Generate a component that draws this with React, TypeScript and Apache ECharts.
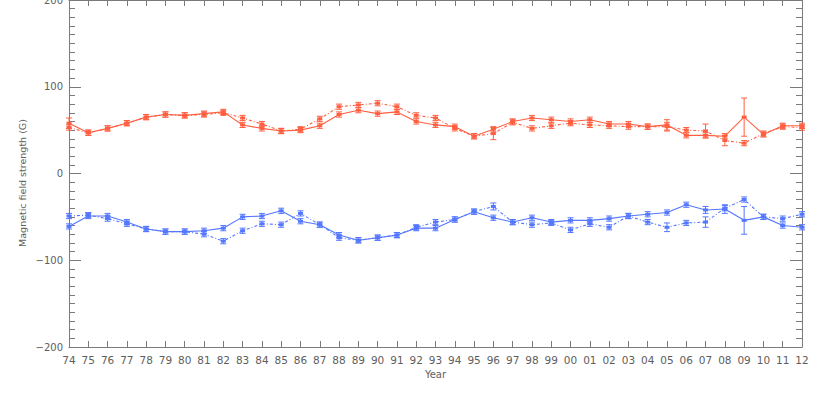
import React, { useEffect, useRef } from "react";
import * as echarts from "echarts";

const years = [
  1974, 1975, 1976, 1977, 1978, 1979, 1980, 1981, 1982, 1983, 1984, 1985, 1986,
  1987, 1988, 1989, 1990, 1991, 1992, 1993, 1994, 1995, 1996, 1997, 1998, 1999,
  2000, 2001, 2002, 2003, 2004, 2005, 2006, 2007, 2008, 2009, 2010, 2011, 2012,
];

// Positive polarity (red): solid and dotted
const redSolid = [
  58, 47, 52, 58, 65, 68, 67, 69, 71, 56, 52, 49, 50, 55, 68, 73, 69, 71, 60, 56,
  54, 43, 51, 60, 64, 62, 60, 62, 57, 57, 54, 56, 44, 44, 43, 65, 45, 55, 55,
];
const redSolidErr = [
  6, 3, 3, 3, 3, 3, 3, 3, 3, 3, 3, 3, 3, 3, 3, 3, 3, 3, 3, 3,
  3, 3, 3, 3, 3, 3, 3, 3, 3, 3, 3, 6, 3, 3, 3, 22, 3, 3, 3,
];
const redDotted = [
  53, 47, 52, 58, 65, 68, 67, 68, 70, 64, 57, 49, 51, 63, 77, 79, 81, 77, 67, 64,
  52, 43, 46, 59, 52, 55, 58, 56, 55, 54, 54, 54, 50, 49, 38, 35, 46, 54, 53,
];
const redDottedErr = [
  3, 3, 3, 3, 3, 3, 3, 3, 3, 3, 3, 3, 3, 3, 3, 3, 3, 3, 3, 3,
  3, 3, 7, 3, 3, 3, 3, 3, 3, 3, 3, 5, 3, 8, 6, 3, 3, 3, 3,
];

// Negative polarity (blue): solid and dotted
const blueSolid = [
  -61, -49, -49, -56, -64, -67, -67, -66, -63, -50, -49, -43, -55, -59, -71, -77,
  -74, -71, -63, -63, -53, -44, -51, -56, -51, -56, -54, -54, -52, -49, -47, -45,
  -36, -42, -41, -54, -50, -60, -62,
];
const blueSolidErr = [
  3, 3, 3, 3, 3, 3, 3, 3, 3, 3, 3, 3, 3, 3, 3, 3, 3, 3, 3, 3,
  3, 3, 3, 3, 3, 3, 3, 3, 3, 3, 3, 3, 3, 4, 5, 16, 3, 3, 3,
];
const blueDotted = [
  -49, -48, -52, -58, -64, -67, -67, -70, -78, -66, -58, -59, -46, -59, -74, -77,
  -74, -71, -62, -56, -53, -44, -38, -56, -59, -57, -65, -58, -62, -49, -56, -62,
  -57, -56, -40, -30, -50, -52, -47,
];
const blueDottedErr = [
  3, 3, 3, 3, 3, 3, 3, 3, 3, 3, 3, 3, 3, 3, 3, 3, 3, 3, 3, 3,
  3, 3, 4, 3, 3, 3, 3, 3, 3, 3, 3, 5, 3, 6, 3, 3, 3, 3, 3,
];

const RED = "#ff5f40";
const BLUE = "#5477ff";
const AXIS = "#7a7a7a";
const LABEL = "#5e5e5e";
const FONT = "DejaVu Sans";
const DOTTED: number[] = [3, 2, 1, 2];

function lineSeries(vals: number[], color: string, dotted: boolean) {
  return {
    type: "line",
    xAxisIndex: 0,
    yAxisIndex: 0,
    data: years.map((y, i) => [y, vals[i]]),
    symbol: "rect",
    symbolSize: [5, 3],
    showSymbol: true,
    itemStyle: { color },
    lineStyle: { color, width: 1.1, type: dotted ? DOTTED : "solid" },
    silent: true,
    z: 3,
  };
}

function errSeries(vals: number[], errs: number[], color: string) {
  return {
    type: "custom",
    xAxisIndex: 0,
    yAxisIndex: 0,
    data: years.map((y, i) => [y, vals[i] - errs[i], vals[i] + errs[i]]),
    encode: { x: 0, y: [1, 2] },
    silent: true,
    z: 2,
    renderItem: (params: any, api: any) => {
      const x = api.value(0);
      const top = api.coord([x, api.value(2)]);
      const bot = api.coord([x, api.value(1)]);
      const hw = 3;
      const st = { stroke: color, lineWidth: 1 };
      return {
        type: "group",
        children: [
          { type: "line", shape: { x1: top[0], y1: top[1], x2: bot[0], y2: bot[1] }, style: st },
          { type: "line", shape: { x1: top[0] - hw, y1: top[1], x2: top[0] + hw, y2: top[1] }, style: st },
          { type: "line", shape: { x1: bot[0] - hw, y1: bot[1], x2: bot[0] + hw, y2: bot[1] }, style: st },
        ],
      };
    },
  };
}

export default function App() {
  const ref = useRef<HTMLDivElement>(null);
  useEffect(() => {
    if (!ref.current) return;
    const chart = echarts.init(ref.current, undefined, { renderer: "svg" });
    const yearFmt = (v: number) => String(v % 100).padStart(2, "0");
    const axisLine = { show: true, onZero: false, lineStyle: { color: AXIS, width: 1 } };
    chart.setOption({
      animation: false,
      backgroundColor: "#ffffff",
      textStyle: { fontFamily: FONT },
      grid: { left: 69, right: 15, top: 0, bottom: 69, containLabel: false, outerBoundsMode: "none" },
      xAxis: [
        {
          type: "value",
          position: "bottom",
          min: 1974,
          max: 2012,
          interval: 1,
          axisLine,
          axisTick: { show: true, inside: true, length: 6, lineStyle: { color: AXIS } },
          axisLabel: { formatter: yearFmt, color: LABEL, fontSize: 10.5, margin: 7, fontFamily: FONT },
          splitLine: { show: false },
          name: "Year",
          nameLocation: "middle",
          nameGap: 20,
          nameTextStyle: { color: LABEL, fontSize: 10, fontFamily: FONT },
        },
        {
          type: "value",
          position: "top",
          min: 1974,
          max: 2012,
          interval: 1,
          axisLine,
          axisTick: { show: true, inside: true, length: 6, lineStyle: { color: AXIS } },
          axisLabel: { show: false },
          splitLine: { show: false },
        },
      ],
      yAxis: [
        {
          type: "value",
          position: "left",
          min: -200,
          max: 200,
          interval: 100,
          axisLine,
          axisTick: { show: true, inside: true, length: 12, lineStyle: { color: AXIS } },
          minorTick: { show: true, splitNumber: 10, length: 6, lineStyle: { color: AXIS } },
          axisLabel: {
            formatter: (v: number) => String(v).replace("-", "\u2212"),
            color: LABEL,
            fontSize: 10,
            margin: 6,
            fontFamily: FONT,
          },
          splitLine: { show: false },
        },
        {
          type: "value",
          position: "right",
          min: -200,
          max: 200,
          interval: 100,
          axisLine,
          axisTick: { show: true, inside: true, length: 12, lineStyle: { color: AXIS } },
          minorTick: { show: true, splitNumber: 10, length: 6, lineStyle: { color: AXIS } },
          axisLabel: { show: false },
          splitLine: { show: false },
        },
      ],
      graphic: [
        {
          type: "text",
          x: 22,
          y: 183,
          rotation: Math.PI / 2,
          style: {
            text: "Magnetic field strength (G)",
            fill: LABEL,
            fontSize: 9.5,
            fontFamily: FONT,
            align: "center",
            verticalAlign: "middle",
            textAlign: "center",
            textVerticalAlign: "middle",
          },
        },
      ],
      series: [
        errSeries(redSolid, redSolidErr, RED),
        errSeries(redDotted, redDottedErr, RED),
        errSeries(blueSolid, blueSolidErr, BLUE),
        errSeries(blueDotted, blueDottedErr, BLUE),
        lineSeries(redSolid, RED, false),
        lineSeries(redDotted, RED, true),
        lineSeries(blueSolid, BLUE, false),
        lineSeries(blueDotted, BLUE, true),
      ],
    });
    return () => chart.dispose();
  }, []);
  return (
    <div
      ref={ref}
      style={{ position: "absolute", left: 0, top: 0, width: 817, height: 416 }}
    />
  );
}
